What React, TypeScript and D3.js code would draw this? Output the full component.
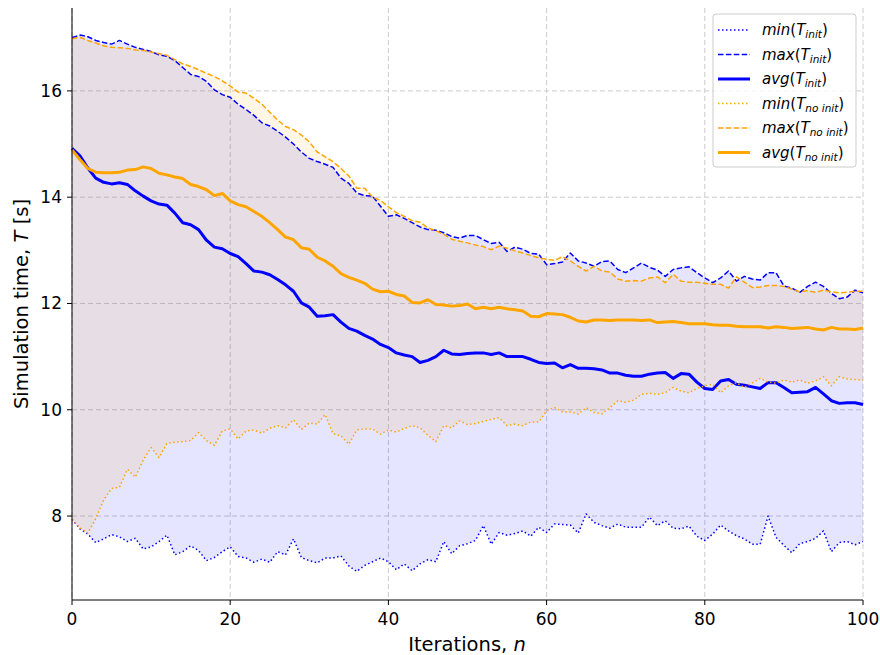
import React from "react";
import * as d3 from "d3";

// simulation time per iteration (n = 0..100)
const minInit = [
  7.94, 7.76, 7.66, 7.5, 7.57, 7.65, 7.61, 7.52, 7.58, 7.38, 7.42, 7.52, 7.64, 7.27, 7.33, 7.44, 7.35, 7.16, 7.22, 7.33,
  7.42, 7.24, 7.21, 7.13, 7.19, 7.13, 7.33, 7.27, 7.57, 7.22, 7.16, 7.12, 7.21, 7.21, 7.25, 7.06, 6.96, 7.07, 7.14, 7.21,
  7.14, 6.99, 7.1, 6.97, 7.1, 7.18, 7.14, 7.52, 7.29, 7.44, 7.48, 7.54, 7.82, 7.47, 7.69, 7.64, 7.67, 7.72, 7.62, 7.79,
  7.69, 7.85, 7.84, 7.83, 7.68, 8.04, 7.88, 7.82, 7.77, 7.85, 7.79, 7.79, 7.79, 7.98, 7.82, 7.91, 7.77, 7.76, 7.81, 7.62,
  7.54, 7.66, 7.83, 7.72, 7.63, 7.57, 7.47, 7.47, 8.0, 7.6, 7.45, 7.31, 7.48, 7.52, 7.58, 7.72, 7.33, 7.5, 7.52, 7.46,
  7.52,
];
const maxInit = [
  17.0, 17.05, 17.02, 16.95, 16.91, 16.88, 16.95, 16.88, 16.82, 16.78, 16.74, 16.68, 16.65, 16.57, 16.44, 16.31, 16.27, 16.18, 16.02, 15.93,
  15.88, 15.75, 15.65, 15.54, 15.4, 15.34, 15.24, 15.13, 15.0, 14.85, 14.73, 14.67, 14.62, 14.56, 14.36, 14.26, 14.08, 14.03, 14.02, 13.83,
  13.64, 13.67, 13.6, 13.52, 13.44, 13.39, 13.38, 13.33, 13.26, 13.23, 13.28, 13.28, 13.2, 13.13, 13.15, 12.98, 13.06, 13.02, 12.94, 12.93,
  12.73, 12.75, 12.78, 12.95, 12.8, 12.76, 12.7, 12.79, 12.8, 12.64, 12.58, 12.67, 12.76, 12.68, 12.63, 12.51, 12.64, 12.67, 12.69, 12.58,
  12.48, 12.39, 12.48, 12.61, 12.42, 12.51, 12.46, 12.44, 12.58, 12.58, 12.33, 12.29, 12.21, 12.32, 12.4, 12.32, 12.19, 12.09, 12.12, 12.25,
  12.2,
];
const avgInit = [
  14.92, 14.78, 14.55, 14.36, 14.28, 14.25, 14.27, 14.24, 14.12, 14.02, 13.93, 13.87, 13.85, 13.7, 13.52, 13.48, 13.39, 13.19, 13.06, 13.03,
  12.94, 12.88, 12.75, 12.61, 12.59, 12.54, 12.45, 12.35, 12.23, 12.01, 11.93, 11.76, 11.77, 11.79, 11.65, 11.53, 11.48, 11.4, 11.33, 11.23,
  11.17, 11.07, 11.03, 11.0, 10.89, 10.93, 11.0, 11.12, 11.05, 11.04, 11.06, 11.07, 11.07, 11.04, 11.07, 11.0, 11.0, 11.0, 10.95, 10.89,
  10.87, 10.88, 10.79, 10.85, 10.78, 10.78, 10.77, 10.75, 10.69, 10.69, 10.65, 10.63, 10.63, 10.67, 10.69, 10.7, 10.59, 10.68, 10.67, 10.52,
  10.4, 10.38, 10.54, 10.57, 10.48, 10.46, 10.43, 10.4, 10.51, 10.51, 10.42, 10.32, 10.33, 10.34, 10.42, 10.3, 10.17, 10.12, 10.13, 10.13,
  10.1,
];
const minNoInit = [
  7.94, 7.78, 7.68, 7.95, 8.3, 8.52, 8.54, 8.88, 8.73, 9.05, 9.29, 9.1, 9.37, 9.39, 9.4, 9.42, 9.57, 9.42, 9.33, 9.6,
  9.64, 9.45, 9.6, 9.62, 9.56, 9.65, 9.7, 9.66, 9.81, 9.63, 9.75, 9.73, 9.91, 9.55, 9.51, 9.35, 9.62, 9.64, 9.64, 9.54,
  9.62, 9.58, 9.65, 9.7, 9.66, 9.52, 9.4, 9.7, 9.66, 9.79, 9.72, 9.74, 9.78, 9.82, 9.85, 9.7, 9.73, 9.7, 9.77, 9.77,
  9.98, 10.04, 9.96, 9.96, 9.92, 10.04, 9.95, 9.92, 10.04, 10.17, 10.14, 10.18, 10.29, 10.31, 10.29, 10.32, 10.42, 10.35, 10.32, 10.4,
  10.45, 10.48, 10.32, 10.45, 10.51, 10.42, 10.5, 10.59, 10.52, 10.5, 10.56, 10.52, 10.56, 10.5, 10.54, 10.62, 10.45, 10.62, 10.58, 10.57,
  10.56,
];
const maxNoInit = [
  16.98, 17.01, 16.95, 16.9, 16.85, 16.82, 16.81, 16.8, 16.77, 16.76, 16.73, 16.7, 16.67, 16.59, 16.51, 16.46, 16.4, 16.33, 16.27, 16.19,
  16.09, 15.98, 15.96, 15.86, 15.75, 15.6, 15.45, 15.33, 15.27, 15.17, 15.04, 14.85, 14.76, 14.67, 14.54, 14.4, 14.17, 14.17, 14.0, 13.94,
  13.82, 13.71, 13.64, 13.56, 13.53, 13.42, 13.37, 13.3, 13.21, 13.17, 13.14, 13.1, 13.07, 13.01, 13.08, 13.04, 12.99, 12.95, 12.9, 12.86,
  12.83, 12.81, 12.88, 12.8, 12.7, 12.61, 12.7, 12.61, 12.59, 12.46, 12.42, 12.43, 12.42, 12.48, 12.5, 12.39, 12.55, 12.42, 12.4, 12.4,
  12.38, 12.36, 12.36, 12.29, 12.5, 12.4, 12.3, 12.31, 12.34, 12.34, 12.32, 12.27, 12.22, 12.24, 12.21, 12.25, 12.22, 12.2, 12.21, 12.23,
  12.23,
];
const avgNoInit = [
  14.89, 14.71, 14.54, 14.47, 14.46, 14.46, 14.47, 14.51, 14.52, 14.57, 14.54, 14.45, 14.42, 14.38, 14.35, 14.24, 14.2, 14.14, 14.03, 14.07,
  13.93, 13.86, 13.82, 13.73, 13.64, 13.52, 13.39, 13.25, 13.2, 13.05, 13.02, 12.87, 12.8, 12.7, 12.56, 12.49, 12.44, 12.38, 12.27, 12.22,
  12.23, 12.17, 12.14, 12.02, 12.01, 12.07, 11.98, 11.97, 11.95, 11.96, 11.99, 11.9, 11.93, 11.9, 11.93, 11.9, 11.88, 11.86, 11.76, 11.75,
  11.81, 11.8, 11.79, 11.74, 11.67, 11.65, 11.69, 11.69, 11.68, 11.69, 11.69, 11.69, 11.68, 11.69, 11.64, 11.65, 11.66, 11.64, 11.62, 11.62,
  11.62, 11.6, 11.59, 11.59, 11.57, 11.56, 11.56, 11.56, 11.54, 11.56, 11.55, 11.53, 11.54, 11.55, 11.52, 11.5, 11.55, 11.52, 11.52, 11.51,
  11.54,
];

const xTicks = [0, 20, 40, 60, 80, 100];
const yTicks = [8, 10, 12, 14, 16];

const BLUE = "#0000ff";
const ORANGE = "#ffa500";
const FONT = "DejaVu Sans, sans-serif";

const series = [
  { name: "min", sub: "init", values: minInit, color: BLUE, width: 1.5, dash: "1.5,2.5" },
  { name: "max", sub: "init", values: maxInit, color: BLUE, width: 1.5, dash: "5.5,2.4" },
  { name: "avg", sub: "init", values: avgInit, color: BLUE, width: 3, dash: null },
  { name: "min", sub: "no init", values: minNoInit, color: ORANGE, width: 1.5, dash: "1.5,2.5" },
  { name: "max", sub: "no init", values: maxNoInit, color: ORANGE, width: 1.5, dash: "5.5,2.4" },
  { name: "avg", sub: "no init", values: avgNoInit, color: ORANGE, width: 3, dash: null },
];

const bands = [
  { lo: minInit, hi: maxInit, color: BLUE },
  { lo: minNoInit, hi: maxNoInit, color: ORANGE },
];

export default function App() {
  const x = d3.scaleLinear().domain([0, 100]).range([72, 863]);
  const y = d3.scaleLinear().domain([6.42, 17.56]).range([600, 8]);

  const line = d3
    .line<number>()
    .x((_, i) => x(i))
    .y((d) => y(d));

  const area = (lo: number[], hi: number[]) =>
    d3
      .area<number>()
      .x((_, i) => x(i))
      .y0((_, i) => y(lo[i]))
      .y1((d) => y(d))(hi);

  const legendX = 713;
  const legendY = 14;

  return (
    <svg width={880} height={655} style={{ position: "absolute", left: 0, top: 0, background: "#fff" }} fontFamily={FONT}>
      {/* grid */}
      {xTicks.map((t) => (
        <line key={`gx${t}`} x1={x(t)} x2={x(t)} y1={8} y2={600} stroke="#cccccc" strokeWidth={1} strokeDasharray="5,3" />
      ))}
      {yTicks.map((t) => (
        <line key={`gy${t}`} x1={72} x2={863} y1={y(t)} y2={y(t)} stroke="#cccccc" strokeWidth={1} strokeDasharray="5,3" />
      ))}

      {/* min-max bands */}
      {bands.map((b, i) => (
        <path key={`band${i}`} d={area(b.lo, b.hi) || ""} fill={b.color} fillOpacity={0.1} stroke="none" />
      ))}

      {series.map((s, i) => (
        <path
          key={`s${i}`}
          d={line(s.values) || ""}
          fill="none"
          stroke={s.color}
          strokeWidth={s.width}
          strokeDasharray={s.dash || undefined}
          strokeLinejoin="round"
        />
      ))}

      {/* axes */}
      <line x1={72} x2={72} y1={8} y2={600} stroke="#000" strokeWidth={1} />
      <line x1={72} x2={863} y1={600} y2={600} stroke="#000" strokeWidth={1} />
      {xTicks.map((t) => (
        <g key={`xt${t}`}>
          <line x1={x(t)} x2={x(t)} y1={600} y2={605} stroke="#000" />
          <text x={x(t)} y={625} textAnchor="middle" fontSize={17} fill="#000">
            {t}
          </text>
        </g>
      ))}
      {yTicks.map((t) => (
        <g key={`yt${t}`}>
          <line x1={67} x2={72} y1={y(t)} y2={y(t)} stroke="#000" />
          <text x={62} y={y(t) + 6} textAnchor="end" fontSize={17} fill="#000">
            {t}
          </text>
        </g>
      ))}

      <text x={467} y={651} textAnchor="middle" fontSize={19.5} fill="#000">
        Iterations, <tspan fontStyle="italic">n</tspan>
      </text>
      <text transform="translate(28,304) rotate(-90)" textAnchor="middle" fontSize={19.5} fill="#000">
        Simulation time, <tspan fontStyle="italic">T</tspan> [s]
      </text>

      {/* legend */}
      <rect x={legendX} y={legendY} width={143} height={153} rx={3} fill="#fff" fillOpacity={0.8} stroke="#cccccc" />
      {series.map((s, i) => {
        const cy = legendY + 16 + i * 24.5;
        return (
          <g key={`lg${i}`}>
            <line
              x1={legendX + 5}
              x2={legendX + 37}
              y1={cy}
              y2={cy}
              stroke={s.color}
              strokeWidth={s.width}
              strokeDasharray={s.dash || undefined}
            />
            <text x={legendX + 49} y={cy + 5} fontSize={15} fill="#000" fontStyle="italic">
              {s.name}
              <tspan fontStyle="normal">(</tspan>
              T
              <tspan fontSize={10.5} dy={3}>
                {s.sub}
              </tspan>
              <tspan fontStyle="normal" dy={-3}>
                )
              </tspan>
            </text>
          </g>
        );
      })}
    </svg>
  );
}
